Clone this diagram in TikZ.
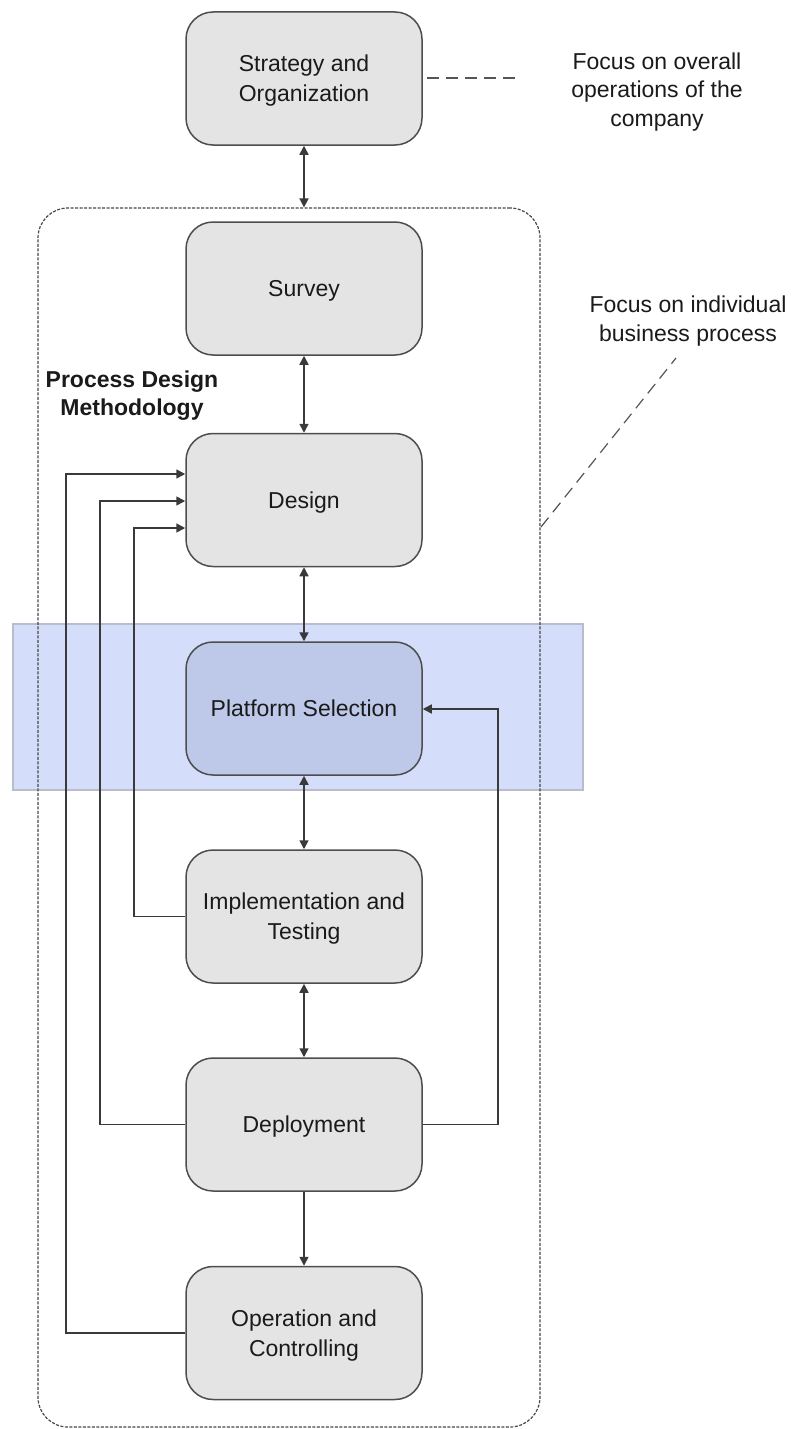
\documentclass[tikz,border=0pt]{standalone}
\usepackage{fontspec}
\setmainfont{Liberation Sans}
\usetikzlibrary{arrows.meta}
\definecolor{boxfill}{HTML}{E4E4E4}
\definecolor{boxline}{HTML}{4D4D4D}
\definecolor{conline}{HTML}{3A3A3A}
\definecolor{bandfill}{HTML}{D4DDFA}
\definecolor{bandline}{HTML}{B9BDCB}
\definecolor{selfill}{HTML}{BEC8E8}
\definecolor{txt}{HTML}{1A1A1A}
\definecolor{guidecol}{HTML}{555555}
\definecolor{contcol}{HTML}{484848}
\begin{document}
\begin{tikzpicture}[x=1pt,y=-1pt,
  stage/.style={draw=boxline, line width=1.5pt, fill=boxfill, rounded corners=27pt,
    minimum width=236pt, minimum height=133pt, inner sep=0pt, align=center,
    text depth=0pt, font=\fontsize{23}{30}\selectfont, text=txt},
  container/.style={draw=contcol, line width=1.2pt, dash pattern=on 3pt off 1.5pt,
    rounded corners=30pt, minimum width=502pt, minimum height=1219pt, inner sep=0pt},
  conn/.style={draw=conline, line width=1.6pt},
  tip/.style={-{Triangle[length=9pt,width=9pt]}},
  tips/.style={{Triangle[length=9pt,width=9pt]}-{Triangle[length=9pt,width=9pt]}},
  note/.style={align=center, font=\fontsize{23}{28.5}\selectfont, text=txt, inner sep=0pt},
  guide/.style={draw=guidecol, line width=1.2pt, dash pattern=on 12pt off 7pt}]

\useasboundingbox (0,0) rectangle (798,1429);

% highlight band
\draw[bandline, fill=bandfill, line width=2pt] (13,624) rectangle (583,790);

% container
\node[container] (pdm) at (289,817.5) {};

% stages
\node[stage] (strat) at (304,78.5) {Strategy and\\Organization};
\node[stage] (survey) at (304,288.5) {Survey};
\node[stage] (design) at (304,500) {Design};
\node[stage, fill=selfill] (plat) at (304,708.5) {Platform Selection};
\node[stage] (impl) at (304,916.5) {Implementation and\\Testing};
\node[stage] (deploy) at (304,1124.5) {Deployment};
\node[stage] (oper) at (304,1333) {Operation and\\Controlling};

% notes
\node[note] (n1) at (657,92) {Focus on overall\\operations of the\\company};
\node[note] (n2) at (688,321) {Focus on individual\\business process};
\node[note, font=\bfseries\fontsize{23}{28}\selectfont] (lbl) at (132,396) {Process Design\\Methodology};

% guide lines
\coordinate (g0) at (427,78);
\coordinate (g1) at (520,78);
\draw[guide] (g0) -- (g1);
\coordinate (g2) at (676,358);
\coordinate (g3) at (541,527);
\draw[guide] (g3) -- (g2);

% main chain
\draw[conn,tips] (strat.south) -- (strat.south |- pdm.north);
\draw[conn,tips] (survey.south) -- (design.north);
\draw[conn,tips] (design.south) -- (plat.north);
\draw[conn,tips] (plat.south) -- (impl.north);
\draw[conn,tips] (impl.south) -- (deploy.north);
\draw[conn,tip] (deploy.south) -- (oper.north);

% feedback loops
\draw[conn,tip] (oper.west) -| (66,474) -- (design.west |- 66,474);
\draw[conn,tip] (deploy.west) -| (100,501) -- (design.west |- 100,501);
\draw[conn,tip] (impl.west) -| (134,528) -- (design.west |- 134,528);
\draw[conn,tip] (deploy.east) -| (498,709) -- (plat.east |- 498,709);
\end{tikzpicture}
\end{document}
